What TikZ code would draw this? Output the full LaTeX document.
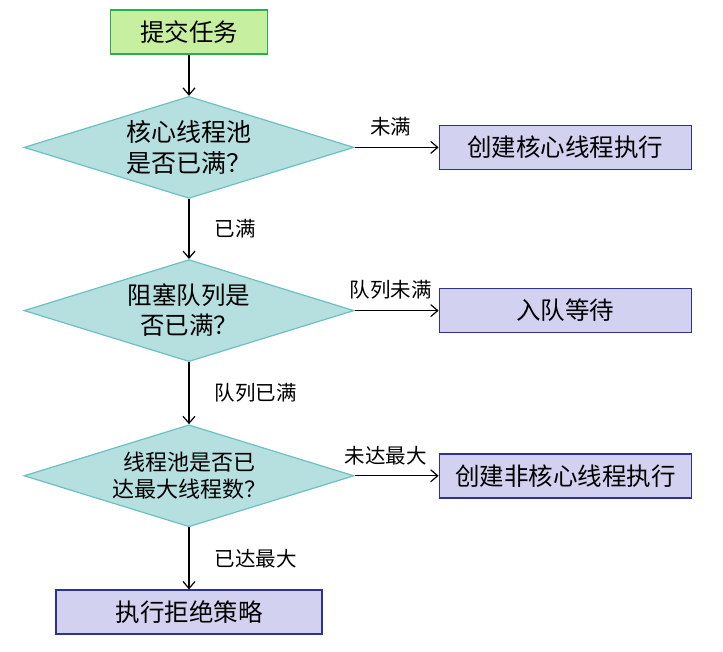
\documentclass[tikz,border=0pt]{standalone}
\usepackage{fontspec}
\setmainfont{Noto Sans CJK SC}
\usetikzlibrary{shapes.geometric,positioning,arrows.meta}

\definecolor{startfill}{HTML}{C6F0A0}
\definecolor{startline}{HTML}{22B14C}
\definecolor{askfill}{HTML}{B6DFE0}
\definecolor{askline}{HTML}{6CC0C2}
\definecolor{actfill}{HTML}{D2D2F0}
\definecolor{actline}{HTML}{2E3192}

\tikzset{
  startbox/.style = {draw=startline, fill=startfill, line width=1.6pt,
    minimum width=157pt, minimum height=44pt, inner sep=0pt,
    font=\fontsize{24.5}{28}\selectfont},
  actbox/.style = {draw=actline, fill=actfill, line width=1.6pt,
    minimum height=44pt, inner sep=0pt,
    font=\fontsize{24.5}{28}\selectfont},
  decision/.style = {diamond, aspect=3.2, draw=askline, fill=askfill,
    line width=1.2pt, minimum width=330pt, minimum height=102pt,
    inner sep=0pt, align=center},
  flow/.style = {-{Straight Barb[length=7pt,width=12pt]}, line width=1.2pt},
  choice/.style = {font=\fontsize{20.5}{22}\selectfont}
}

\begin{document}
\begin{tikzpicture}[x=1pt, y=-1pt]
  \useasboundingbox (0,0) rectangle (723,652);

  \node[startbox] (submit) at (189,32) {提交任务};
  \node[decision, below=41pt of submit,
        font=\fontsize{25}{31}\selectfont] (corefull) {核心线程池\\是否已满？};
  \node[decision, below=60pt of corefull,
        font=\fontsize{24.5}{30}\selectfont] (queuefull) {阻塞队列是\\否已满？};
  \node[decision, below=62pt of queuefull,
        font=\fontsize{22}{27}\selectfont] (maxfull) {线程池是否已\\达最大线程数？};

  \node[actbox, minimum width=252pt, right=84pt of corefull] (newcore) {创建核心线程执行};
  \node[actbox, minimum width=252pt, right=84pt of queuefull] (enqueue) {入队等待};
  \node[actbox, minimum width=252pt, right=84pt of maxfull] (newextra) {创建非核心线程执行};
  \node[actbox, minimum width=266pt, below=62pt of maxfull] (reject) {执行拒绝策略};

  \draw[flow] (submit) -- (corefull);
  \draw[flow] (corefull) -- node[choice, right=22pt] {已满} (queuefull);
  \draw[flow] (queuefull) -- node[choice, right=22pt] {队列已满} (maxfull);
  \draw[flow] (maxfull) -- node[choice, right=22pt] {已达最大} (reject);

  \draw[flow] (corefull) -- node[choice, above=7pt, xshift=-6pt] {未满} (newcore);
  \draw[flow] (queuefull) -- node[choice, above=7pt, xshift=-6pt] {队列未满} (enqueue);
  \draw[flow] (maxfull) -- node[choice, above=7pt, xshift=-11pt] {未达最大} (newextra);
\end{tikzpicture}
\end{document}
